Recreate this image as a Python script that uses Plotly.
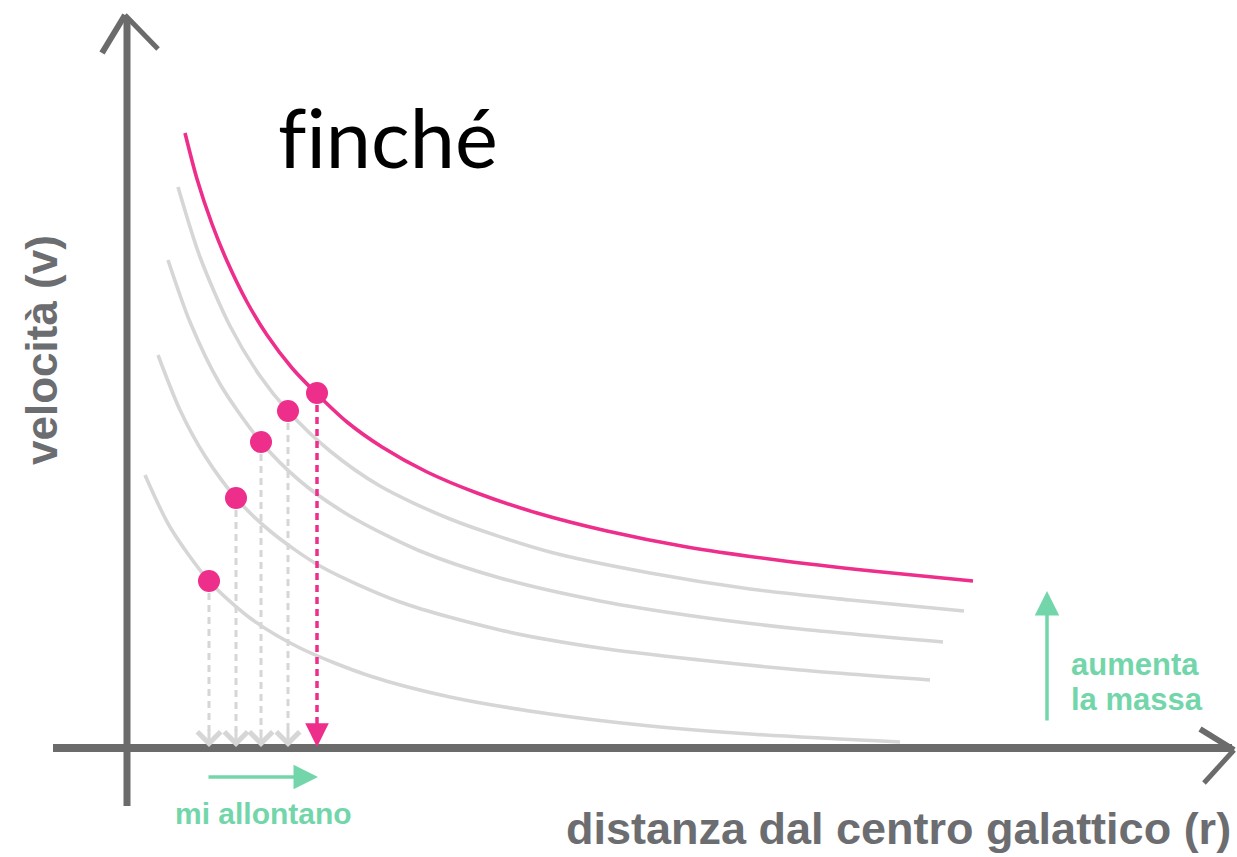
import plotly.graph_objects as go

# ---------------- data (r = distance, v = velocity; arbitrary units) ----------------
pink_r = [0.58, 0.70, 0.85, 1.00, 1.20, 1.40, 1.65, 1.90, 2.20, 2.55, 3.00, 3.50, 4.10, 4.80, 5.60, 6.50, 7.45, 8.46]
pink_v = [6.15, 5.69, 5.24, 4.87, 4.46, 4.13, 3.80, 3.54, 3.26, 3.01, 2.76, 2.55, 2.35, 2.17, 2.01, 1.88, 1.77, 1.67]

gray1_r = [0.51, 0.73, 1.03, 1.33, 1.61, 2.03, 2.53, 3.23, 4.23, 5.23, 6.23, 7.23, 8.37]
gray1_v = [5.61, 4.91, 4.22, 3.72, 3.37, 2.97, 2.62, 2.29, 1.96, 1.75, 1.59, 1.48, 1.37]
gray2_r = [0.41, 0.63, 0.93, 1.34, 1.73, 2.23, 2.93, 3.73, 4.73, 5.73, 6.73, 8.16]
gray2_v = [4.88, 4.26, 3.64, 3.06, 2.67, 2.32, 1.97, 1.70, 1.47, 1.31, 1.19, 1.06]
gray3_r = [0.31, 0.53, 0.78, 1.09, 1.43, 1.93, 2.73, 3.73, 4.73, 5.73, 6.73, 8.03]
gray3_v = [3.93, 3.38, 2.92, 2.50, 2.17, 1.82, 1.46, 1.18, 1.00, 0.88, 0.78, 0.68]
gray4_r = [0.18, 0.43, 0.82, 1.23, 1.73, 2.43, 3.23, 4.23, 5.23, 6.23, 7.73]
gray4_v = [2.73, 2.21, 1.67, 1.30, 1.00, 0.72, 0.51, 0.34, 0.22, 0.14, 0.06]

# points where the star sits (one per curve), leftmost = least mass
dot_r = [0.82, 1.09, 1.34, 1.61, 1.90]
dot_v = [1.67, 2.50, 3.06, 3.37, 3.55]

title_text = "f\u200cinché"
x_label = "distanza dal centro galattico (r)"
y_label = "velocità (v)"
move_text = "mi allontano"
mass_text = ["aumenta", "la massa"]

# ---------------- styling / layout helpers ----------------
W, H = 1237, 857
X0, Y0, S = 127, 748, 100.0  # pixel of origin, pixels per unit


def px(x):
    return (x - X0) / S


def py(y):
    return (Y0 - y) / S


PINK = "#ee2e8b"
LGRAY = "#d6d6d6"
AXIS = "#6b6b6b"
LABEL = "#6c6d70"
GREEN = "#72d6aa"

fig = go.Figure()

for r, v in [(gray1_r, gray1_v), (gray2_r, gray2_v), (gray3_r, gray3_v), (gray4_r, gray4_v)]:
    fig.add_trace(go.Scatter(x=r, y=v, mode="lines", line=dict(color=LGRAY, width=3.6, shape="spline", smoothing=0.8),
                             hoverinfo="skip", showlegend=False))
fig.add_trace(go.Scatter(x=pink_r, y=pink_v, mode="lines", line=dict(color=PINK, width=3.6, shape="spline", smoothing=0.8),
                         hoverinfo="skip", showlegend=False))

tip_v = py(747)
tail_v = py(731)
annotations = []
for i, (r, v) in enumerate(zip(dot_r, dot_v)):
    last = i == len(dot_r) - 1
    col = PINK if last else LGRAY
    fig.add_trace(go.Scatter(x=[r, r], y=[v, tail_v], mode="lines",
                             line=dict(color=col, width=3.5 if last else 3, dash="7px,5px"),
                             hoverinfo="skip", showlegend=False))
    annotations.append(dict(x=r, y=tip_v, ax=r, ay=tail_v + 0.03, xref="x", yref="y", axref="x", ayref="y",
                            showarrow=True, arrowhead=2 if last else 4, arrowsize=1.35 if last else 1.5,
                            arrowwidth=3.5 if last else 3, arrowcolor=col, text="", standoff=0))

fig.add_trace(go.Scatter(x=dot_r, y=dot_v, mode="markers", marker=dict(color=PINK, size=22, line=dict(width=0)),
                         hoverinfo="skip", showlegend=False))

# green arrows
annotations.append(dict(x=px(318), y=py(777), ax=px(207), ay=py(777), xref="x", yref="y", axref="x", ayref="y",
                        showarrow=True, arrowhead=2, arrowsize=1.4, arrowwidth=3.5, arrowcolor=GREEN, text="", standoff=0))
annotations.append(dict(x=px(1047), y=py(591), ax=px(1047), ay=py(722), xref="x", yref="y", axref="x", ayref="y",
                        showarrow=True, arrowhead=2, arrowsize=1.4, arrowwidth=3.5, arrowcolor=GREEN, text="", standoff=0))

# texts
annotations.append(dict(x=px(276), y=py(136), xref="x", yref="y", text=title_text, showarrow=False, xanchor="left",
                        yanchor="middle", font=dict(family="Lato", size=81, color="#000000")))
annotations.append(dict(x=px(898), y=py(828), xref="x", yref="y", text=x_label, showarrow=False, xanchor="center",
                        yanchor="middle", font=dict(family="Liberation Sans", size=45, color=LABEL, weight="bold")))
annotations.append(dict(x=px(41), y=py(350), xref="x", yref="y", text=y_label, showarrow=False, textangle=-90,
                        xanchor="center", yanchor="middle",
                        font=dict(family="Liberation Sans", size=44, color=LABEL, weight="bold")))
annotations.append(dict(x=px(263), y=py(813), xref="x", yref="y", text=move_text, showarrow=False, xanchor="center",
                        yanchor="middle", font=dict(family="Liberation Sans", size=30, color=GREEN, weight="bold")))
annotations.append(dict(x=px(1069), y=py(664), xref="x", yref="y", text=mass_text[0], showarrow=False, xanchor="left",
                        yanchor="middle", font=dict(family="Liberation Sans", size=31, color=GREEN, weight="bold")))
annotations.append(dict(x=px(1069), y=py(699), xref="x", yref="y", text=mass_text[1], showarrow=False, xanchor="left",
                        yanchor="middle", font=dict(family="Liberation Sans", size=31, color=GREEN, weight="bold")))

# hand-drawn style axes
shapes = [
    dict(type="line", xref="x", yref="y", x0=0, y0=py(806), x1=0, y1=py(18), line=dict(color=AXIS, width=7)),
    dict(type="line", xref="x", yref="y", x0=px(125), y0=py(15), x1=px(102), y1=py(53), line=dict(color=AXIS, width=6)),
    dict(type="line", xref="x", yref="y", x0=px(125), y0=py(15), x1=px(158), y1=py(49), line=dict(color=AXIS, width=5)),
    dict(type="line", xref="x", yref="y", x0=px(53), y0=0, x1=px(1232), y1=0, line=dict(color=AXIS, width=8)),
    dict(type="line", xref="x", yref="y", x0=px(1234), y0=py(750), x1=px(1200), y1=py(729), line=dict(color=AXIS, width=6)),
    dict(type="line", xref="x", yref="y", x0=px(1234), y0=py(750), x1=px(1204), y1=py(783), line=dict(color=AXIS, width=5)),
]

fig.update_layout(
    width=W, height=H, margin=dict(l=0, r=0, t=0, b=0),
    paper_bgcolor="white", plot_bgcolor="white",
    xaxis=dict(range=[px(0), px(W)], visible=False, fixedrange=True),
    yaxis=dict(range=[py(H), py(0)], visible=False, fixedrange=True),
    annotations=annotations, shapes=shapes, showlegend=False,
)

fig.write_html("out.html", config={"displayModeBar": False},
               post_script="document.body.style.margin='0';document.body.style.overflow='hidden';")
